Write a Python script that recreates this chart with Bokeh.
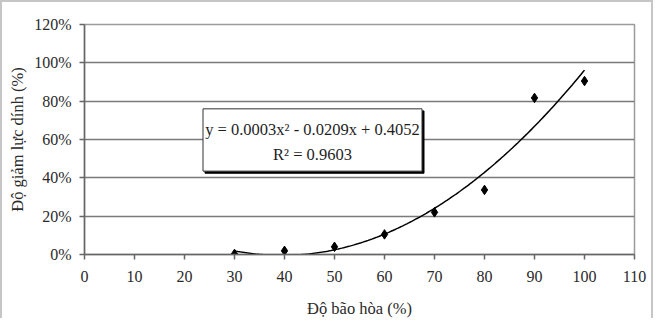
import numpy as np
from bokeh.plotting import figure
from bokeh.models import NumeralTickFormatter, FixedTicker, Range1d
from bokeh.core.properties import value
from bokeh.embed import file_html
from bokeh.resources import INLINE

# Data
saturation = [30, 40, 50, 60, 70, 80, 90, 100]
reduction = [0.003, 0.019, 0.04, 0.105, 0.22, 0.337, 0.817, 0.905]
x_ticks = [0, 10, 20, 30, 40, 50, 60, 70, 80, 90, 100, 110]
y_ticks = [0, 0.2, 0.4, 0.6, 0.8, 1.0, 1.2]
equation_lines = ["y = 0.0003x² - 0.0209x + 0.4052", "R² = 0.9603"]
x_title = "Độ bão hòa (%)"
y_title = "Độ giảm lực dính (%)"

# Quadratic trendline (least squares on the data, as the chart's trendline)
coef = np.polyfit(saturation, reduction, 2)
trend_x = np.linspace(min(saturation), max(saturation), 200)
trend_y = np.polyval(coef, trend_x)

FONT = value("Liberation Serif")

p = figure(width=653, height=318, output_backend="svg", toolbar_location=None,
           x_range=Range1d(0, 110), y_range=Range1d(0, 1.2),
           min_border_left=82, min_border_right=21, min_border_top=22, min_border_bottom=64)
p.styles = {"border": "2px solid #c6c6c6", "border-bottom": "none", "margin-bottom": "-10px"}

p.background_fill_color = "white"
p.border_fill_color = "white"
p.outline_line_color = "#9a9a9a"
p.outline_line_width = 1.5

p.xgrid.grid_line_color = None
p.ygrid.grid_line_color = "#7a7a7a"
p.ygrid.grid_line_width = 1.5

p.xaxis.ticker = FixedTicker(ticks=x_ticks)
p.yaxis.ticker = FixedTicker(ticks=y_ticks)
p.yaxis.formatter = NumeralTickFormatter(format="0%")

for ax in (p.xaxis, p.yaxis):
    ax.axis_line_color = "#666666"
    ax.axis_line_width = 1.5
    ax.major_tick_line_color = "#666666"
    ax.major_tick_line_width = 1.5
    ax.major_tick_out = 5
    ax.major_tick_in = 0
    ax.minor_tick_line_color = None
    ax.major_label_text_font = "Liberation Serif"
    ax.major_label_text_font_size = "16px"
    ax.major_label_text_color = "#2a2a2a"
    ax.axis_label_text_font = "Liberation Serif"
    ax.axis_label_text_font_size = "16.5px"
    ax.axis_label_text_font_style = "normal"
    ax.axis_label_text_color = "#2a2a2a"

p.xaxis.major_label_standoff = 11
p.yaxis.major_label_standoff = 8
p.xaxis.axis_label_standoff = 14
p.yaxis.axis_label_standoff = 4
p.xaxis.axis_label = x_title
p.yaxis.axis_label = y_title

# trendline and points
p.line(trend_x, trend_y, line_color="black", line_width=1.5)
p.scatter(saturation, reduction, marker="diamond", size=9.5, color="black")

# equation box (shadow + box)
bx0, bx1, by0, by1 = 23.7, 67.5, 0.435, 0.76
p.quad(left=[bx0 + 0.4], right=[bx1 + 0.4], bottom=[by0 - 0.011], top=[by1 - 0.011],
       fill_color="black", line_color="black")
p.quad(left=[bx0], right=[bx1], bottom=[by0], top=[by1],
       fill_color="white", line_color="#333333", line_width=1)
p.text(x=[45.6, 45.6], y=[0.652, 0.522], text=equation_lines,
       text_font=FONT, text_font_size="16.5px", text_align="center",
       text_baseline="middle", text_color="#1e1e1e")

open("out.html", "w").write(file_html(p, INLINE))
